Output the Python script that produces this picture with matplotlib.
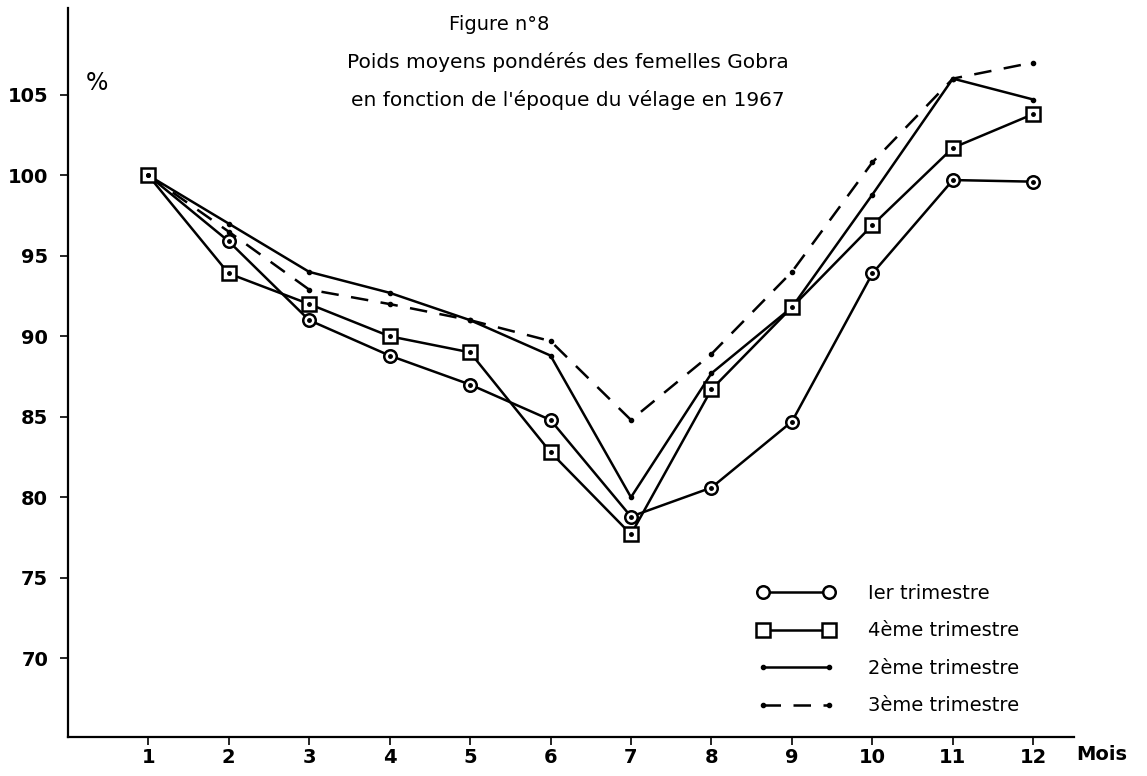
import numpy as np
import matplotlib.pyplot as plt
from matplotlib.lines import Line2D

mois = [1, 2, 3, 4, 5, 6, 7, 8, 9, 10, 11, 12]
trim1 = [100, 95.9, 91.0, 88.8, 87.0, 84.8, 78.8, 80.6, 84.7, 93.9, 99.7, 99.6]
trim4 = [100, 93.9, 92.0, 90.0, 89.0, 82.8, 77.7, 86.7, 91.8, 96.9, 101.7, 103.8]
trim2 = [100, 97.0, 94.0, 92.7, 91.0, 88.8, 80.0, 87.7, 91.8, 98.8, 106.0, 104.7]
trim3 = [100, 96.5, 92.9, 92.0, 91.0, 89.7, 84.8, 88.9, 94.0, 100.8, 106.0, 107.0]

yticks = [70, 75, 80, 85, 90, 95, 100, 105]
noms = ["Ier trimestre", "4ème trimestre", "2ème trimestre", "3ème trimestre"]

plt.rcParams['font.family'] = ['DejaVu Sans']
fig = plt.figure(figsize=(11.47, 7.76), dpi=100)
ax = fig.add_axes([0.059, 0.05, 0.877, 0.94])

lw = 1.8
ax.plot(mois, trim2, c='k', lw=lw, marker='o', ms=3)
ax.plot(mois, trim3, c='k', lw=lw, ls=(0, (7, 5)), marker='o', ms=3)
ax.plot(mois, trim1, c='k', lw=lw, marker='o', ms=9, mfc='white', mew=1.8)
ax.plot(mois, trim4, c='k', lw=lw, marker='s', ms=10, mfc='white', mew=1.8)
ax.plot(mois, trim1, ls='none', marker='o', ms=2.5, c='k')
ax.plot(mois, trim4, ls='none', marker='o', ms=2.5, c='k')

ax.set_xlim(0, 12.5)
ax.set_ylim(65.1, 110.4)
ax.set_xticks(mois)
ax.set_yticks(yticks)
ax.tick_params(labelsize=14, length=6, width=1.2)
ax.tick_params(axis='y', pad=8)
ax.tick_params(axis='x', pad=2)
for t in ax.get_xticklabels() + ax.get_yticklabels():
    t.set_fontweight('bold')
ax.spines['top'].set_visible(False)
ax.spines['right'].set_visible(False)
ax.spines['left'].set_linewidth(1.6)
ax.spines['bottom'].set_linewidth(1.6)

ax.text(12.85, -0.011, "Mois", transform=ax.get_xaxis_transform(), fontsize=14,
        fontweight='bold', ha='center', va='top')
ax.text(0.22, 105.7, "%", fontsize=17, ha='left', va='center')

fig.text(0.435, 0.968, "Figure n°8", fontsize=14, ha='center', va='center')
fig.text(0.495, 0.92, "Poids moyens pondérés des femelles Gobra", fontsize=14.5,
         ha='center', va='center')
fig.text(0.495, 0.871, "en fonction de l'époque du vélage en 1967", fontsize=14.5,
         ha='center', va='center')

handles = [
    Line2D([], [], c='k', lw=lw, marker='o', ms=9, mfc='white', mew=1.8),
    Line2D([], [], c='k', lw=lw, marker='s', ms=10, mfc='white', mew=1.8),
    Line2D([], [], c='k', lw=lw, marker='o', ms=3, markevery=[0]),
    Line2D([], [], c='k', lw=lw, ls=(0, (7, 5)), marker='o', ms=3, markevery=[0]),
]
ax.legend(handles, noms, loc='center left', bbox_to_anchor=(0.668, 0.12),
          frameon=False, numpoints=2, handlelength=4.0, fontsize=14,
          labelspacing=0.95, handletextpad=1.7)

fig.savefig('out.png', dpi=100)
